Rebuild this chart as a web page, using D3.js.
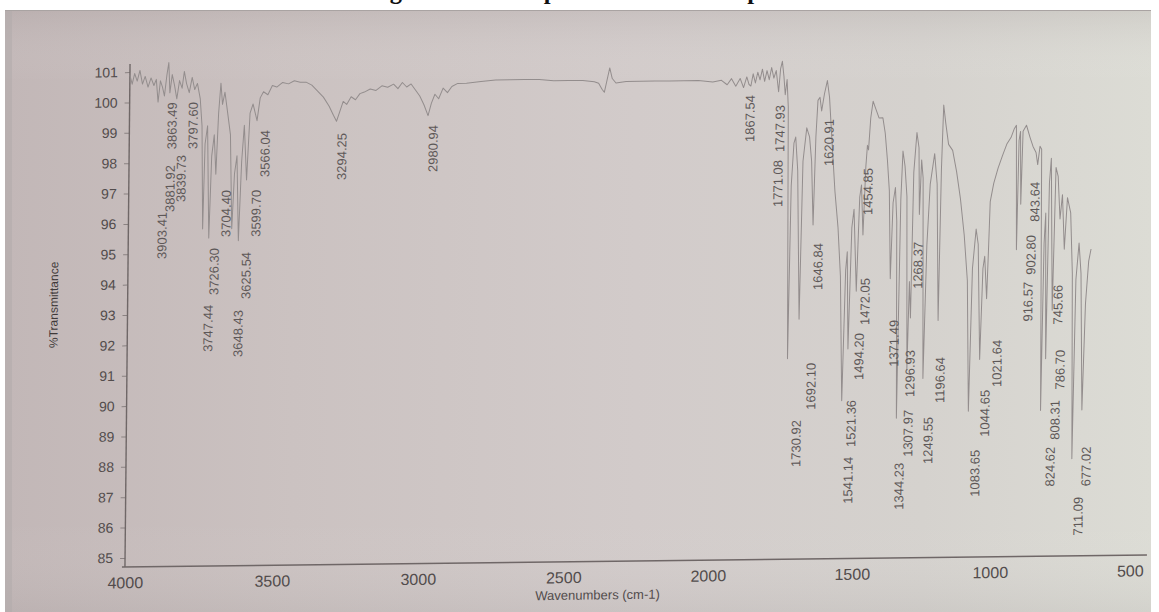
<!DOCTYPE html>
<html>
<head>
<meta charset="utf-8">
<script src="https://cdn.jsdelivr.net/npm/d3@7"></script>
<style>
  html, body { margin: 0; padding: 0; background: #ffffff; }
  svg { display: block; }
</style>
</head>
<body>
<svg id="chart" width="1159" height="612"></svg>
<script>
// ---- data -------------------------------------------------------------
// IR spectrum: [wavenumber (cm-1), %Transmittance]
const spectrum = [
  [4000,100.9],[3992,100.6],[3984,100.95],[3975,100.7],[3966,101.05],[3957,100.6],[3948,100.85],
  [3938,100.5],[3928,100.8],[3918,100.55],[3910,100.75],[3903.41,100.0],[3896,100.7],[3889,100.5],
  [3881.92,100.2],[3874,100.9],[3868,101.3],[3863.49,100.3],[3856,100.9],[3848,100.55],[3839.73,100.1],
  [3831,100.7],[3822,100.45],[3815,101.0],[3807,100.6],[3797.60,100.3],[3788,100.8],[3779,100.4],
  [3770,100.6],[3760,100.1],[3753,99.2],[3747.44,95.8],[3742,98.6],[3734,99.2],[3726.30,95.5],
  [3719,98.2],[3711,98.9],[3704.40,97.6],[3697,99.6],[3690,100.6],[3684,99.9],[3676,100.3],
  [3666,99.6],[3656,98.9],[3648.43,95.8],[3641,97.6],[3633,98.2],[3625.54,95.4],[3617,98.0],
  [3609,99.2],[3599.70,97.4],[3590,99.6],[3580,99.9],[3566.04,99.35],[3556,100.1],[3545,100.3],
  [3530,100.2],[3515,100.5],[3500,100.45],[3480,100.6],[3460,100.55],[3440,100.65],[3420,100.6],
  [3400,100.6],[3380,100.5],[3360,100.3],[3340,100.1],[3320,99.8],[3305,99.5],[3294.25,99.3],
  [3284,99.6],[3272,99.95],[3260,99.85],[3245,100.1],[3230,100.0],[3215,100.2],[3200,100.25],
  [3180,100.35],[3160,100.3],[3140,100.45],[3120,100.4],[3100,100.5],[3085,100.35],[3070,100.55],
  [3055,100.4],[3040,100.5],[3025,100.3],[3010,100.1],[2995,99.8],[2980.94,99.45],[2970,99.85],
  [2958,100.15],[2945,100.0],[2930,100.35],[2915,100.2],[2900,100.4],[2880,100.5],[2850,100.5],
  [2800,100.55],[2750,100.6],[2700,100.6],[2650,100.6],[2600,100.6],[2550,100.55],[2500,100.55],
  [2450,100.55],[2410,100.5],[2395,100.45],[2383,100.25],[2375,100.15],[2366,100.55],[2357,100.95],
  [2348,100.6],[2335,100.45],[2300,100.5],[2250,100.5],[2200,100.5],[2150,100.5],[2100,100.5],
  [2050,100.5],[2000,100.45],[1970,100.5],[1950,100.35],[1935,100.55],[1920,100.3],[1905,100.55],
  [1893,100.25],[1882,100.6],[1874,100.35],[1867.54,100.3],[1860,100.7],[1852,100.4],[1844,100.75],
  [1836,100.5],[1828,100.85],[1820,100.45],[1812,100.8],[1804,100.5],[1796,100.9],[1788,100.55],
  [1780,100.8],[1771.08,100.1],[1765,100.85],[1759,101.1],[1753,100.6],[1747.93,100.0],[1742,100.5],
  [1737,99.6],[1730.92,91.3],[1724,97.0],[1716,98.4],[1710,98.6],[1702,97.5],[1692.10,92.6],
  [1684,97.8],[1672,98.9],[1662,98.6],[1654,97.8],[1646.84,95.7],[1640,98.6],[1634,99.8],
  [1627,99.9],[1620.91,99.45],[1612,100.0],[1602,100.45],[1594,99.9],[1585,98.6],[1572,96.8],
  [1560,95.6],[1550,94.0],[1541.14,89.9],[1532,94.2],[1527,94.8],[1521.36,91.6],[1512,95.6],
  [1505,96.2],[1494.20,93.5],[1485,96.6],[1479,97.0],[1472.05,95.35],[1464,97.6],[1459,98.3],
  [1454.85,98.15],[1448,99.2],[1440,99.75],[1430,99.5],[1418,99.2],[1404,99.2],[1395,98.7],
  [1386,97.8],[1378,96.8],[1371.49,93.9],[1364,96.4],[1356,96.9],[1350,95.8],[1344.23,89.3],
  [1336,96.5],[1330,98.1],[1322,97.6],[1314,96.6],[1307.97,90.9],[1302,93.8],[1296.93,92.6],
  [1290,97.4],[1280,98.7],[1272,98.2],[1268.37,96.0],[1262,97.8],[1256,97.2],[1249.55,90.6],
  [1240,95.0],[1230,97.0],[1215,98.0],[1205,97.0],[1196.64,92.5],[1190,97.5],[1184,99.6],
  [1176,99.0],[1165,98.3],[1150,98.1],[1135,97.4],[1120,96.5],[1105,95.3],[1092,93.8],
  [1083.65,89.5],[1074,94.2],[1062,95.5],[1054,95.0],[1044.65,91.2],[1036,94.2],[1030,94.6],
  [1021.64,93.2],[1016,95.0],[1012,96.4],[1000,97.0],[985,97.5],[970,97.9],[954,98.3],
  [940,98.5],[928,98.8],[921,98.9],[916.57,94.8],[911,98.4],[906,98.7],[902.80,96.3],
  [897,98.7],[885,98.9],[872,98.5],[861,98.2],[850,98.0],[843.64,97.6],[836,98.2],
  [830,98.1],[824.62,89.5],[818,95.0],[813,96.0],[808.31,91.2],[801,97.0],[795,97.8],
  [786.70,92.8],[778,97.5],[770,97.2],[762,95.8],[754,96.6],[745.66,94.8],[736,96.5],
  [724,96.0],[716,94.0],[711.09,87.9],[703,93.8],[693,95.0],[685,94.0],[677.02,89.5],
  [668,93.0],[658,94.4],[650,94.8]
];

// Peaks picked on the printout (cm-1)
const peakLabels = [
  3903.41, 3881.92, 3863.49, 3839.73, 3797.60, 3747.44, 3726.30, 3704.40, 3648.43, 3625.54,
  3599.70, 3566.04, 3294.25, 2980.94, 1867.54, 1771.08, 1747.93, 1730.92, 1692.10, 1646.84,
  1620.91, 1541.14, 1521.36, 1494.20, 1472.05, 1454.85, 1371.49, 1344.23, 1307.97, 1296.93,
  1268.37, 1249.55, 1196.64, 1083.65, 1044.65, 1021.64, 916.57, 902.80, 843.64, 824.62,
  808.31, 786.70, 745.66, 711.09, 677.02
];

const xTickValues = [4000, 3500, 3000, 2500, 2000, 1500, 1000, 500];
const yTickValues = [85, 86, 87, 88, 89, 90, 91, 92, 93, 94, 95, 96, 97, 98, 99, 100, 101];

// ---- label layout (kept apart from the data) --------------------------
// sideways nudge of each peak label, px
const labelNudge = [
  5.25, 6.5, 2.5, 5.0, 4.1, 6.35, 5.6, 10.6, 7.3, 8.0,
  9.8, 8.3, 5.55, 5.3, -0.6, 0.2, -5.0, 9.3, 12.5, 5.3,
  7.6, 7.0, 3.8, 3.3, 2.7, -0.2, 4.3, 3.2, 1.7, 0.1,
  -0.9, 5.7, 2.5, 7.1, 5.7, 11.0, 12.0, 10.7, -2.4, 10,
  9.9, 8.4, -5.8, 6.7, 4.7
];
// %T level at which the upper end of each label sits
const labelTopLevel = [
  96.38, 97.92, 99.99, 98.25, 99.99, 93.3, 95.17, 97.08, 93.12, 95.03,
  97.07, 99.04, 98.91, 99.14, 100.0, 97.85, 99.66, 89.28, 91.16, 95.1,
  99.18, 88.05, 89.92, 92.12, 93.93, 97.55, 92.54, 87.83, 89.57, 91.54,
  95.1, 89.33, 91.3, 88.23, 90.2, 91.84, 93.74, 95.28, 97.03, 88.3,
  89.84, 91.49, 93.63, 86.64, 88.29
];

// ---- drawing ----------------------------------------------------------
const W = 1159, H = 612;
const svg = d3.select("#chart");
const defs = svg.append("defs");

// paper photographed under uneven light
const bg = defs.append("linearGradient").attr("id", "paper").attr("x1", 0).attr("x2", 1).attr("y1", 0).attr("y2", 0);
[[0, "#c2b7b7"], [0.25, "#cbc2c1"], [0.55, "#d2cbca"], [0.8, "#d5d2ce"], [1, "#dcdcd5"]]
  .forEach(([o, c]) => bg.append("stop").attr("offset", o).attr("stop-color", c));
const shade = defs.append("linearGradient").attr("id", "shade").attr("x1", 0).attr("x2", 0).attr("y1", 0).attr("y2", 1);
[[0, "#9a9090", 0.18], [0.12, "#ffffff", 0], [0.85, "#ffffff", 0], [1, "#8f8a8a", 0.12]]
  .forEach(([o, c, a]) => shade.append("stop").attr("offset", o).attr("stop-color", c).attr("stop-opacity", a));

// caption line of the page, running off the top edge
svg.append("text")
  .attr("x", 368).attr("y", -1.5)
  .attr("font-family", "'Liberation Serif', 'Times New Roman', serif")
  .attr("font-weight", "bold").attr("font-size", 24.5)
  .attr("fill", "#111")
  .text("Figure 3: FTIR spectrum of the complex");

svg.append("rect").attr("x", 5).attr("y", 10).attr("width", 1146).attr("height", H - 10).attr("fill", "url(#paper)");
svg.append("rect").attr("x", 5).attr("y", 10).attr("width", 1146).attr("height", H - 10).attr("fill", "url(#shade)");
svg.append("rect").attr("x", 5).attr("y", 10).attr("width", 7).attr("height", H - 10).attr("fill", "#b3abab").attr("opacity", 0.6);
svg.append("line").attr("x1", 5).attr("x2", 1151).attr("y1", 10.5).attr("y2", 10.5).attr("stroke", "#a9a3a2");

// plot frame (slightly skewed, as printed paper seen by a camera)
const plotW = 1022, plotH = 499;
const g = svg.append("g")
  .attr("transform", "translate(130,68) matrix(1,-0.0118,-0.0101,1,0,0)");

// the printed axis is a little compressed toward its low-wavenumber end
const x = d3.scaleLinear()
  .domain([4000, 3500, 3000, 2500, 2000, 1500, 1000, 500, 430])
  .range([0, 147, 293, 438.5, 583, 727, 865, 1005, 1025]);
const y = d3.scaleLinear().domain([84.7, 101.2]).range([plotH, -2]);

const font = "'Liberation Sans', Arial, sans-serif";

// axes
const yAxis = g.append("g")
  .call(d3.axisLeft(y).tickValues(yTickValues).tickFormat(d3.format("d")).tickSize(5).tickPadding(7));
yAxis.select(".domain").remove();
yAxis.selectAll("line").attr("stroke", "#8a8282");
yAxis.selectAll("text").attr("font-family", font).attr("font-size", 14).attr("fill", "#524c4c");

const xAxis = g.append("g").attr("transform", `translate(0,${plotH})`)
  .call(d3.axisBottom(x).tickValues(xTickValues).tickFormat(d3.format("d")).tickSize(0).tickPadding(10));
xAxis.select(".domain").remove();
xAxis.selectAll("text").attr("font-family", font).attr("font-size", 16).attr("fill", "#524c4c");

g.append("line").attr("x1", 0).attr("x2", 0).attr("y1", -4).attr("y2", plotH)
  .attr("stroke", "#6f6767").attr("stroke-width", 1.4);
g.append("line").attr("x1", -3).attr("x2", plotW).attr("y1", plotH).attr("y2", plotH)
  .attr("stroke", "#6f6767").attr("stroke-width", 1.4);

// axis titles
g.append("text")
  .attr("x", 473).attr("y", 537)
  .attr("text-anchor", "middle")
  .attr("font-family", font).attr("font-size", 13).attr("fill", "#524c4c")
  .text("Wavenumbers (cm-1)");
g.append("text")
  .attr("transform", "translate(-74,236) rotate(-90)")
  .attr("text-anchor", "middle").attr("dy", "0.35em")
  .attr("font-family", font).attr("font-size", 12).attr("fill", "#3f3939")
  .text("%Transmittance");

// spectrum trace
const line = d3.line().x(d => x(d[0])).y(d => y(d[1]));
g.append("path")
  .datum(spectrum)
  .attr("d", line)
  .attr("fill", "none")
  .attr("stroke", "#938d8d")
  .attr("stroke-width", 1)
  .attr("stroke-linejoin", "round");

// peak labels, written upward beneath each band
g.append("g").selectAll("text")
  .data(peakLabels)
  .join("text")
  .attr("transform", (d, i) => `translate(${x(d) + labelNudge[i]},${y(labelTopLevel[i])}) rotate(-90)`)
  .attr("text-anchor", "end")
  .attr("dy", "0.35em")
  .attr("font-family", font).attr("font-size", 13).attr("fill", "#5e5858")
  .text(d => d.toFixed(2));
</script>
</body>
</html>
